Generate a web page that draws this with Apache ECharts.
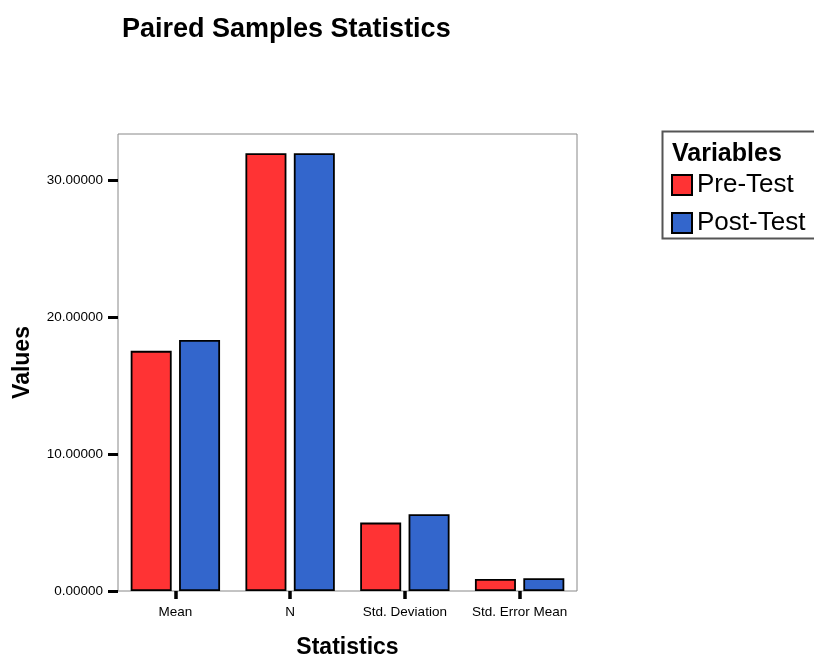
<!DOCTYPE html>
<html>
<head>
<meta charset="utf-8">
<script src="https://cdn.jsdelivr.net/npm/echarts@6/dist/echarts.min.js"></script>
<style>
html,body{margin:0;padding:0;background:#fff;}
#chart{width:814px;height:664px;}
</style>
</head>
<body>
<div id="chart"></div>
<script>
var categories = ['Mean', 'N', 'Std. Deviation', 'Std. Error Mean'];
var preTest = [17.55, 32, 5.0, 0.88];
var postTest = [18.35, 32, 5.61, 0.94];
var seriesNames = ['Pre-Test', 'Post-Test'];
var yTicks = [0, 10, 20, 30];

var FONT = '"Liberation Sans", Arial, sans-serif';
var chart = echarts.init(document.getElementById('chart'));
chart.setOption({
  animation: false,
  backgroundColor: '#fff',
  title: {
    text: 'Paired Samples Statistics',
    left: 117, top: 11,
    textStyle: {fontFamily: FONT, fontSize: 27, fontWeight: 'bold', color: '#000'}
  },
  grid: {
    left: 118, right: 237, top: 134, bottom: 72,
    show: true, borderColor: '#888', borderWidth: 1, backgroundColor: 'transparent'
  },
  legend: {
    orient: 'vertical', left: 671, top: 172, padding: 0,
    itemWidth: 20, itemHeight: 20, itemGap: 12,
    icon: 'rect',
    itemStyle: {borderColor: '#000', borderWidth: 2},
    textStyle: {fontFamily: FONT, fontSize: 26, color: '#000', padding: [0, 0, 0, 0]},
    data: seriesNames
  },
  graphic: [
    {type: 'rect', left: 660, top: 129, shape: {width: 153, height: 107},
     style: {fill: 'none', stroke: '#555', lineWidth: 2}, z: 10},
    {type: 'text', left: 672, top: 142,
     style: {text: 'Variables', font: 'bold 25px ' + FONT, fill: '#000'}, z: 10}
  ],
  xAxis: {
    type: 'category', data: categories,
    name: 'Statistics', nameLocation: 'middle', nameGap: 45,
    nameTextStyle: {fontFamily: FONT, fontSize: 23, fontWeight: 'bold', color: '#000'},
    axisLine: {show: false},
    axisTick: {show: true, interval: 0, alignWithLabel: true, length: 8, lineStyle: {color: '#000', width: 3.5}},
    axisLabel: {interval: 0, fontFamily: FONT, fontSize: 13.5, color: '#000', margin: 14}
  },
  yAxis: {
    type: 'value', min: 0, max: 33.4, interval: 10,
    name: 'Values', nameLocation: 'middle', nameGap: 84,
    nameTextStyle: {fontFamily: FONT, fontSize: 23, fontWeight: 'bold', color: '#000'},
    axisLine: {show: false},
    splitLine: {show: false},
    axisTick: {show: true, length: 10, customValues: yTicks, lineStyle: {color: '#000', width: 3}},
    axisLabel: {fontFamily: FONT, fontSize: 13.5, color: '#000', margin: 15, customValues: yTicks,
      formatter: function (v) { return v.toFixed(5); }}
  },
  series: [
    {name: seriesNames[0], type: 'bar', data: preTest, barWidth: 41, barGap: '18%',
     itemStyle: {color: '#FF3334', borderColor: '#000', borderWidth: 1.8}},
    {name: seriesNames[1], type: 'bar', data: postTest, barWidth: 41,
     itemStyle: {color: '#3366CC', borderColor: '#000', borderWidth: 1.8}}
  ]
});
</script>
</body>
</html>
